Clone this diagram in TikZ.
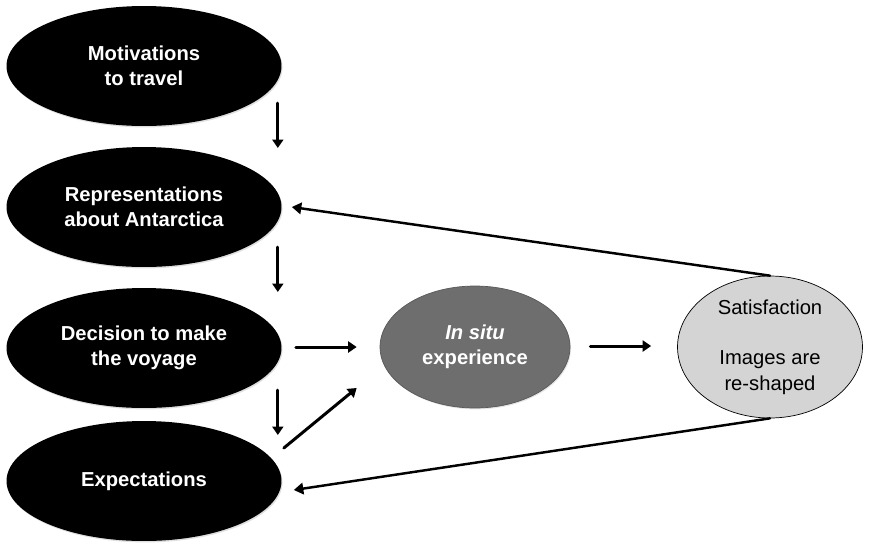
\documentclass[tikz,border=0pt]{standalone}
\usepackage{fontspec}
\setmainfont{Liberation Sans}
\usepackage{xcolor}
\usepackage{tikz}
\usetikzlibrary{calc,positioning,shapes.geometric,arrows.meta,shadows}
\definecolor{situgray}{HTML}{6E6E6E}
\definecolor{satgray}{HTML}{D4D4D4}
\tikzset{
  StageBox/.style={
    ellipse, fill=black, text=white, draw=none,
    minimum width=5.5cm, minimum height=2.4cm, inner sep=0pt,
    align=center, font=\bfseries\fontsize{11.5}{14.4}\selectfont,
    drop shadow={opacity=0.25, shadow xshift=0.6pt, shadow yshift=-0.8pt}
  },
  SituBox/.style={
    ellipse, fill=situgray, draw=situgray!80!black, text=white,
    minimum width=3.8cm, minimum height=2.44cm, inner sep=0pt,
    align=center, font=\bfseries\fontsize{11.5}{14.4}\selectfont,
    drop shadow={opacity=0.2, shadow xshift=0.6pt, shadow yshift=-0.8pt}
  },
  SatBox/.style={
    ellipse, fill=satgray, draw=black, thin, text=black,
    minimum width=3.7cm, minimum height=2.84cm, inner sep=0pt,
    align=center, font=\fontsize{11.5}{14.4}\selectfont
  },
  FlowArrow/.style={-{Triangle[length=1.7mm,width=2.2mm]}, line width=1.7pt},
  BackArrow/.style={-{Triangle[length=1.9mm,width=2.3mm]}, line width=1.4pt}
}

\begin{document}
\begin{tikzpicture}[x=0.02cm, y=-0.02cm, line cap=round, line join=round]
  \useasboundingbox (0,0) rectangle (873,549);

  % left column
  \node[StageBox] (mot) at (144,66)  {Motivations\\to travel};
  \node[StageBox] (rep) at (144,207) {Representations\\about Antarctica};
  \node[StageBox] (dec) at (144,348) {Decision to make\\the voyage};
  \node[StageBox] (exp) at (144,481) {Expectations};

  % middle and right
  \node[SituBox] (situ) at (475,347) {\textit{In situ}\\experience};
  \node[SatBox]  (sat)  at (770,347) {Satisfaction\\[\baselineskip]Images are\\re-shaped};

  % down the column
  \draw[FlowArrow] ($(mot.east)+(-4,37)$) -- ($(rep.east)+(-4,-59)$);
  \draw[FlowArrow] ($(rep.east)+(-4,40)$) -- ($(dec.east)+(-4,-56)$);
  \draw[FlowArrow] ($(dec.east)+(-4,42)$) -- ($(exp.east)+(-4,-46)$);

  % towards the experience
  \draw[FlowArrow] ($(dec.east)+(14,-1)$) -- ($(situ.west)+(-23,0)$);
  \draw[FlowArrow] ($(exp.east)+(2,-33)$) -- ($(situ.west)+(-23,41)$);
  \draw[FlowArrow] ($(situ.east)+(20,-1)$) -- ($(sat.west)+(-26,-1)$);

  % feedback
  \draw[BackArrow] (sat.north) -- ($(rep.east)+(10,0)$);
  \draw[BackArrow] (sat.south) -- ($(exp.east)+(12,9)$);
\end{tikzpicture}
\end{document}
